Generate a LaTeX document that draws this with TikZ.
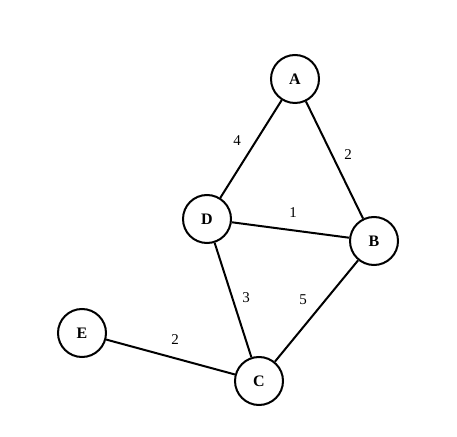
\documentclass[tikz,border=0pt]{standalone}
\usepackage{fontspec}
\setmainfont{Liberation Serif}
\begin{document}
\begin{tikzpicture}[x=1pt,y=1pt,
  vert/.style={circle,draw,line width=2pt,minimum size=48pt,inner sep=0pt,font=\fontsize{16}{16}\selectfont\bfseries},
  edge/.style={line width=2pt},
  wlab/.style={font=\fontsize{15}{15}\selectfont}]
\useasboundingbox (0,0) rectangle (457,436);
\node[vert] (A) at (295,357) {A};
\node[vert] (D) at (207,217) {D};
\node[vert] (B) at (374,195) {B};
\node[vert] (E) at (82,103) {E};
\node[vert] (C) at (259,55) {C};
\draw[edge] (A) -- (D);
\draw[edge] (A) -- (B);
\draw[edge] (D) -- (B);
\draw[edge] (D) -- (C);
\draw[edge] (B) -- (C);
\draw[edge] (E) -- (C);
\node[wlab] (w1) at (237,295) {4};
\node[wlab] (w2) at (348,281) {2};
\node[wlab] (w3) at (293,223) {1};
\node[wlab] (w4) at (246,138) {3};
\node[wlab] (w5) at (303,136) {5};
\node[wlab] (w6) at (175,96) {2};
\end{tikzpicture}
\end{document}
